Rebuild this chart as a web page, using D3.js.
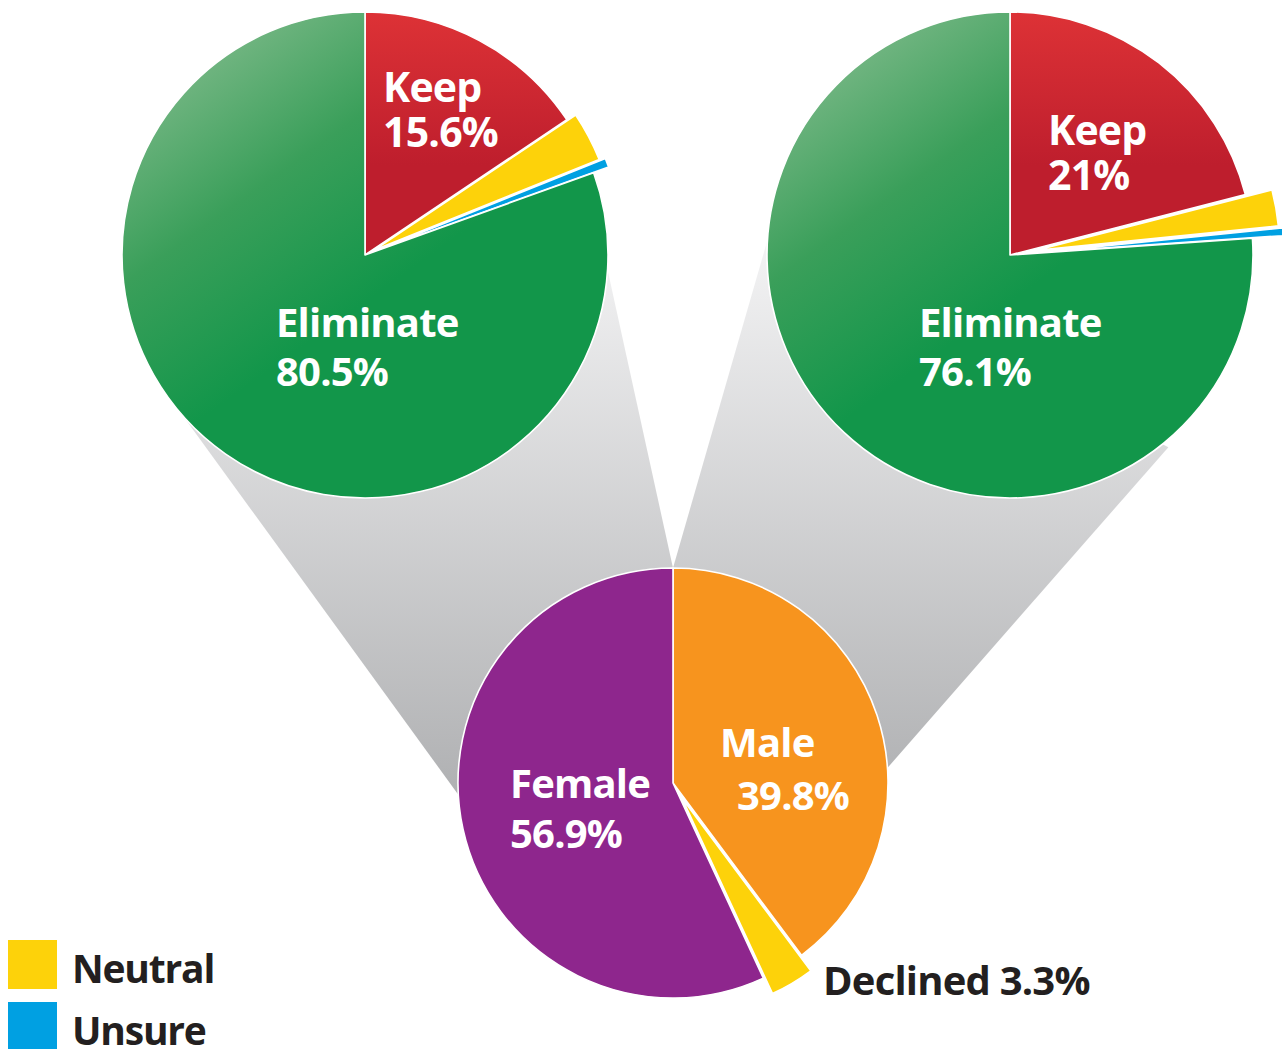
<!DOCTYPE html>
<html>
<head>
<meta charset="utf-8">
<script src="https://cdn.jsdelivr.net/npm/d3@7"></script>
<style>
  body { margin: 0; background: #fff; }
  text { font-family: "Open Sans", "DejaVu Sans", sans-serif; font-weight: 700; }
</style>
</head>
<body>
<div id="chart"></div>
<script>
// data
var opinionCats = ['Keep', 'Neutral', 'Unsure', 'Eliminate'];
var femaleValues = [15.6, 3.3, 0.6, 80.5];
var maleValues = [21, 2.4, 0.5, 76.1];
var genderCats = ['Male', 'Declined', 'Female'];
var genderValues = [39.8, 3.3, 56.9];
var legendLabels = ['Neutral', 'Unsure'];

var width = 1282, height = 1049;

var colors = {
  Keep: 'url(#redGrad)', Neutral: '#fdd20a', Unsure: '#00a0e2', Eliminate: 'url(#greenGrad)',
  Male: '#f7941e', Declined: '#fdd20a', Female: '#8e268d'
};
var legendColors = d3.scaleOrdinal().domain(legendLabels).range(['#fdd20a', '#00a0e2']);

var svg = d3.select('#chart').append('svg')
  .attr('width', width)
  .attr('height', height);

var defs = svg.append('defs');

function addGrad(id, x1, y1, x2, y2, stops) {
  var g = defs.append('linearGradient')
    .attr('id', id)
    .attr('gradientUnits', 'userSpaceOnUse')
    .attr('x1', x1).attr('y1', y1).attr('x2', x2).attr('y2', y2);
  stops.forEach(function (s) {
    g.append('stop').attr('offset', s[0]).attr('stop-color', s[1]);
  });
}
// gradients for top pies are in the pie group's coordinates (centre at 0,0)
addGrad('greenGrad', -190, -240, 10, 40, [[0, '#88be91'], [0.55, '#3a9f5a'], [1, '#12964a']]);
addGrad('redGrad', 0, -243, 0, -90, [[0, '#dd3236'], [1, '#be1e2d']]);
addGrad('coneGrad', 0, 235, 0, 815, [[0, '#f4f4f5'], [1, '#adaeb0']]);

// layout of the three pies
var topR = 243, botR = 215;
var pies = [
  { name: 'female', cx: 365, cy: 255, r: topR, cats: opinionCats, values: femaleValues,
    explode: { Neutral: 10, Unsure: 16 } },
  { name: 'male', cx: 1010, cy: 255, r: topR, cats: opinionCats, values: maleValues,
    explode: { Neutral: 27, Unsure: 31 } },
  { name: 'gender', cx: 673, cy: 783, r: botR, cats: genderCats, values: genderValues,
    explode: { Declined: 18 } }
];

// point on a circle, angle in degrees clockwise from 12 o'clock
function onCircle(p, deg, r) {
  var a = deg * Math.PI / 180;
  return [p.cx + r * Math.sin(a), p.cy - r * Math.cos(a)];
}

// grey cones joining the bottom pie to the top ones
var cones = [
  [onCircle(pies[0], 228.4, topR), onCircle(pies[0], 93.5, topR),
   onCircle(pies[2], 0, botR), onCircle(pies[2], 263.3, botR - 8)],
  [onCircle(pies[1], 273.5, topR), onCircle(pies[1], 140.5, topR + 6),
   onCircle(pies[2], 86.5, botR - 2), onCircle(pies[2], 0, botR)]
];

svg.append('g').selectAll('path')
  .data(cones)
  .join('path')
  .attr('d', function (d) { return 'M' + d.join('L') + 'Z'; })
  .attr('fill', 'url(#coneGrad)');

var pie = d3.pie().sort(null).value(function (d) { return d.value; });

pies.forEach(function (p) {
  var arc = d3.arc().innerRadius(0).outerRadius(p.r);
  var rows = p.cats.map(function (c, i) { return { cat: c, value: p.values[i] }; });
  var g = svg.append('g')
    .attr('class', 'pie-' + p.name)
    .attr('transform', 'translate(' + p.cx + ',' + p.cy + ')');

  g.selectAll('path')
    .data(pie(rows))
    .join('path')
    .attr('d', arc)
    .attr('fill', function (d) { return colors[d.data.cat]; })
    .attr('stroke', '#fff')
    .attr('stroke-width', 1.6)
    .attr('stroke-linejoin', 'round')
    .attr('transform', function (d) {
      var off = p.explode[d.data.cat] || 0;
      var mid = (d.startAngle + d.endAngle) / 2;
      return 'translate(' + (off * Math.sin(mid)) + ',' + (-off * Math.cos(mid)) + ')';
    });
});

// labels: [pie, text, dx from pie centre, baseline dy, size, colour]
var labels = [
  [0, 'Keep', 18, -153, 41, '#fff'],
  [0, '15.6%', 18, -108, 41, '#fff'],
  [0, 'Eliminate', -89, 82, 40, '#fff'],
  [0, '80.5%', -89, 131, 40, '#fff'],
  [1, 'Keep', 38, -110, 41, '#fff'],
  [1, '21%', 38, -65, 41, '#fff'],
  [1, 'Eliminate', -91, 82, 40, '#fff'],
  [1, '76.1%', -91, 131, 40, '#fff'],
  [2, 'Male', 47, -26, 40, '#fff'],
  [2, '39.8%', 64, 27, 40, '#fff'],
  [2, 'Female', -163, 15, 40, '#fff'],
  [2, '56.9%', -163, 65, 40, '#fff'],
  [2, 'Declined 3.3%', 150, 212, 40, '#231f20']
];

svg.append('g').selectAll('text')
  .data(labels)
  .join('text')
  .attr('x', function (d) { return pies[d[0]].cx + d[2]; })
  .attr('y', function (d) { return pies[d[0]].cy + d[3]; })
  .attr('font-size', function (d) { return d[4] + 'px'; })
  .attr('letter-spacing', '-0.8px')
  .attr('fill', function (d) { return d[5]; })
  .text(function (d) { return d[1]; });

// legend
var legend = svg.append('g').attr('transform', 'translate(8,940)');
var item = legend.selectAll('g')
  .data(legendLabels)
  .join('g')
  .attr('transform', function (d, i) { return 'translate(0,' + (i * 62) + ')'; });

item.append('rect')
  .attr('width', 49)
  .attr('height', 49)
  .attr('fill', function (d) { return legendColors(d); });

item.append('text')
  .attr('x', 64)
  .attr('y', 43)
  .attr('font-size', '39px')
  .attr('letter-spacing', '-1.2px')
  .attr('fill', '#231f20')
  .text(function (d) { return d; });
</script>
</body>
</html>
